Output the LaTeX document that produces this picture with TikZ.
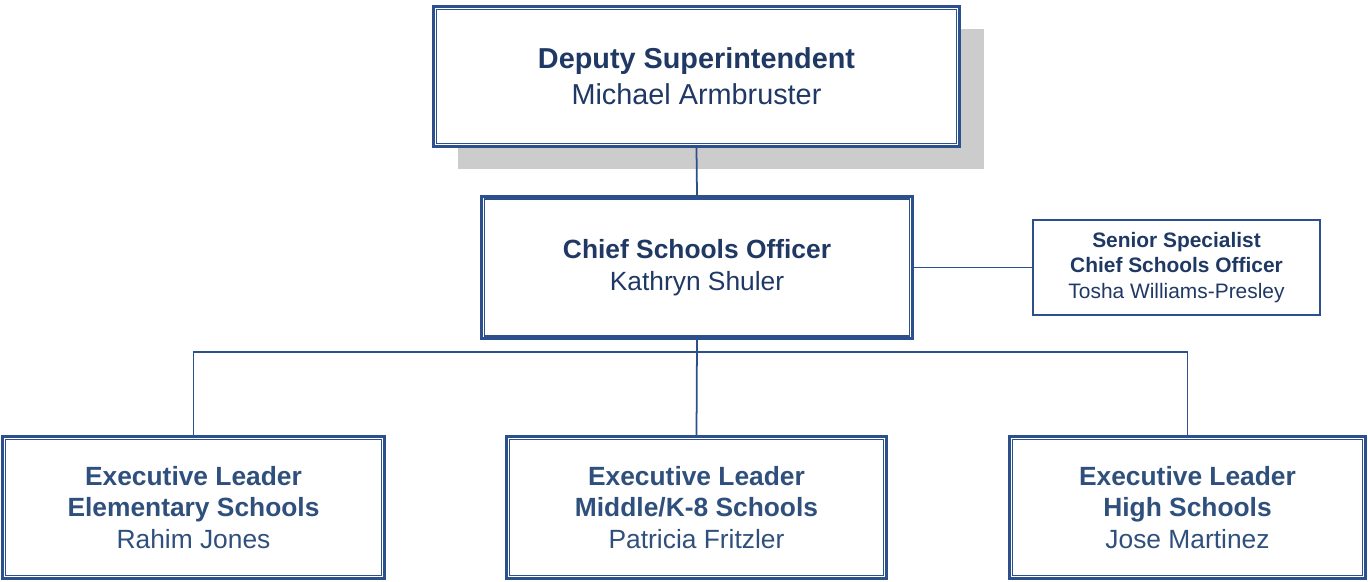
\documentclass[tikz,border=0pt]{standalone}
\usepackage{fontspec}
\setmainfont{Liberation Sans}
\usetikzlibrary{shadows}

\definecolor{navy}{RGB}{31,56,100}
\definecolor{linecol}{RGB}{44,80,140}
\definecolor{exectext}{RGB}{47,80,125}

\tikzset{
    box/.style = {draw = linecol, line width = 1.6pt, fill = white, align = center, inner sep = 0pt},
    inner line/.style = {draw = linecol, line width = 0.8pt},
    conn/.style = {draw = linecol, line width = 1pt},
    bigtitle/.style = {font = \fontsize{16.4}{20.4}\selectfont, text = navy},
    title/.style = {font = \fontsize{15}{17.9}\selectfont, text = navy},
    exectitle/.style = {font = \fontsize{15}{17.9}\selectfont, text = exectext},
    smalltitle/.style = {font = \fontsize{11.9}{14.7}\selectfont, text = navy}
}

\begin{document}
\begin{tikzpicture}
    \useasboundingbox (0,0) rectangle (27.36,11.62);
    % top
    \node[box, bigtitle, minimum width = 10.52cm, minimum height = 2.8cm,
          drop shadow = {shadow xshift = 0.48cm, shadow yshift = -0.44cm, fill = black!20, opacity = 1}]
        (dep) at (13.93,10.09) {\textbf{Deputy Superintendent}\\Michael Armbruster};
    \node[box, title, minimum width = 8.62cm, minimum height = 2.85cm]
        (cso) at (13.94,6.27) {\textbf{Chief Schools Officer}\\Kathryn Shuler};
    \node[box, smalltitle, line width = 1pt, minimum width = 5.74cm, minimum height = 1.9cm]
        (sen) at (23.53,6.27) {\textbf{Senior Specialist}\\\textbf{Chief Schools Officer}\\Tosha Williams-Presley};
    % executive leaders
    \node[box, exectitle, minimum width = 7.64cm, minimum height = 2.84cm]
        (elem) at (3.87,1.47) {\textbf{Executive Leader}\\\textbf{Elementary Schools}\\Rahim Jones};
    \node[box, exectitle, minimum width = 7.6cm, minimum height = 2.84cm]
        (mid) at (13.93,1.47) {\textbf{Executive Leader}\\\textbf{Middle/K-8 Schools}\\Patricia Fritzler};
    \node[box, exectitle, minimum width = 7.12cm, minimum height = 2.84cm]
        (high) at (23.75,1.47) {\textbf{Executive Leader}\\\textbf{High Schools}\\Jose Martinez};
    \foreach \n in {dep,cso,elem,mid,high}
        \draw[inner line] ([shift={(0.085,-0.085)}]\n.north west) rectangle ([shift={(-0.085,0.085)}]\n.south east);
    % connectors
    \coordinate (bus) at (13.93,4.58);
    \draw[conn] (dep.south) -- (cso.north);
    \draw[conn] (cso.east) -- (sen.west);
    \draw[conn] (cso.south) -- (mid.north);
    \draw[conn] (elem.north) |- (bus) -| (high.north);
\end{tikzpicture}
\end{document}
